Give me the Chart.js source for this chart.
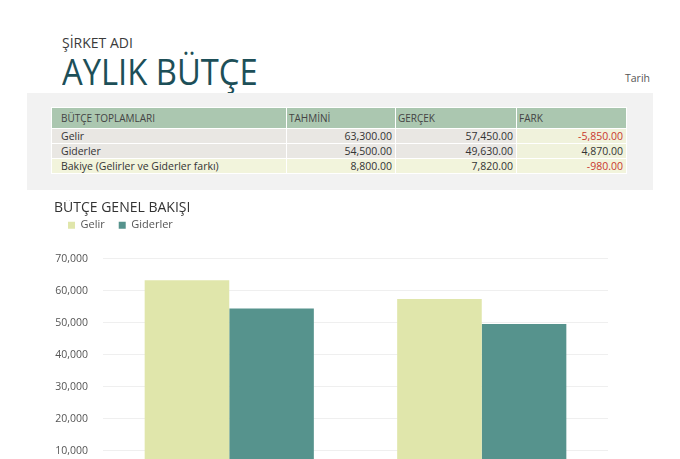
<!DOCTYPE html>
<html lang="tr">
<head>
<meta charset="utf-8">
<title>Aylık Bütçe</title>
<script src="https://cdn.jsdelivr.net/npm/chart.js@4.4.1/dist/chart.umd.min.js"></script>
<style>
    html, body {
        margin: 0;
        padding: 0;
        width: 680px;
        height: 459px;
        overflow: hidden;
        background: #fff;
        font-family: "Open Sans", Lato, sans-serif;
    }
    .company {
        position: absolute;
        left: 62px;
        top: 33px;
        font-size: 14px;
        color: #3b3b3b;
    }
    .main-title {
        position: absolute;
        left: 62px;
        top: 52px;
        font-size: 37px;
        line-height: 1;
        color: #1d4f58;
        transform: scaleX(0.885);
        transform-origin: left top;
        white-space: nowrap;
    }
    .date {
        position: absolute;
        right: 30px;
        top: 71px;
        font-size: 10.5px;
        color: #555;
    }
    .band {
        position: absolute;
        left: 27px;
        top: 93px;
        width: 626px;
        height: 97px;
        background: #f2f2f2;
    }
    table {
        position: absolute;
        left: 51px;
        top: 107px;
        border-collapse: collapse;
        table-layout: fixed;
        font-size: 10.5px;
        color: #333;
    }
    td, th {
        border: 1px solid #fff;
        padding: 0 3px 0 2px;
        height: 14px;
        line-height: 14px;
        white-space: nowrap;
        overflow: hidden;
    }
    th {
        background: #abc7b0;
        font-weight: normal;
        text-align: left;
        height: 20px;
        font-size: 10px;
        color: #444;
    }
    th:first-child, td:first-child { padding-left: 9px; }
    td { text-align: right; }
    td:first-child { text-align: left; }
    .grey td { background: #e9e7e3; }
    .grey td.diff { background: #f0f2dc; }
    .yellow td { background: #f2f4dc; }
    .neg { color: #c8382e; }
    #chart-wrap {
        position: absolute;
        left: 40px;
        top: 200px;
        width: 590px;
        height: 310px;
    }
</style>
</head>
<body>
<div class="company">ŞİRKET ADI</div>
<div class="main-title">AYLIK BÜTÇE</div>
<div class="date">Tarih</div>
<div class="band"></div>
<table>
    <colgroup>
        <col style="width:235px">
        <col style="width:109px">
        <col style="width:121px">
        <col style="width:110px">
    </colgroup>
    <tr>
        <th>BÜTÇE TOPLAMLARI</th>
        <th>TAHMİNİ</th>
        <th>GERÇEK</th>
        <th>FARK</th>
    </tr>
    <tr class="grey"><td>Gelir</td><td>63,300.00</td><td>57,450.00</td><td class="diff neg">-5,850.00</td></tr>
    <tr class="grey"><td>Giderler</td><td>54,500.00</td><td>49,630.00</td><td class="diff">4,870.00</td></tr>
    <tr class="yellow"><td>Bakiye (Gelirler ve Giderler farkı)</td><td>8,800.00</td><td>7,820.00</td><td class="neg">-980.00</td></tr>
</table>
<div id="chart-wrap"><canvas id="budget-chart"></canvas></div>
<script>
const categories = ['Tahmini', 'Gerçek'];
const incomeValues = [63300, 57450];
const expenseValues = [54500, 49630];
const seriesNames = ['Gelir', 'Giderler'];
const yTicks = [0, 10000, 20000, 30000, 40000, 50000, 60000, 70000];

// extra room under the legend, like the spreadsheet chart
const legendGap = {
    id: 'legendGap',
    beforeInit(chart) {
        const fit = chart.legend.fit;
        chart.legend.fit = function () {
            fit.call(this);
            this.height += 18;
        };
    }
};

const ctx = document.getElementById('budget-chart').getContext('2d');
new Chart(ctx, {
    type: 'bar',
    data: {
        labels: categories,
        datasets: [
            { label: seriesNames[0], data: incomeValues, backgroundColor: '#e0e6ab' },
            { label: seriesNames[1], data: expenseValues, backgroundColor: '#56938d' }
        ]
    },
    plugins: [legendGap],
    options: {
        responsive: true,
        maintainAspectRatio: false,
        animation: false,
        events: [],
        layout: { padding: { left: 14, right: 22, top: 0, bottom: 0 } },
        datasets: { bar: { barPercentage: 1, categoryPercentage: 0.67 } },
        plugins: {
            title: {
                display: true,
                text: 'BÜTÇE GENEL BAKIŞI',
                align: 'start',
                color: '#333',
                font: { family: 'Open Sans', size: 14, weight: 'normal' },
                padding: { top: 0, bottom: -11 }
            },
            legend: {
                position: 'top',
                align: 'start',
                labels: {
                    boxWidth: 7,
                    boxHeight: 7,
                    color: '#555',
                    font: { family: 'Open Sans', size: 11 },
                    padding: 14
                }
            },
            tooltip: { enabled: false }
        },
        scales: {
            x: {
                grid: { display: false },
                border: { display: false },
                ticks: { color: '#555', font: { family: 'Open Sans', size: 11 } }
            },
            y: {
                min: yTicks[0],
                max: yTicks[yTicks.length - 1],
                afterBuildTicks: axis => { axis.ticks = yTicks.map(v => ({ value: v })); },
                afterFit: axis => { axis.width = 49; },
                grid: { color: '#efefef', drawTicks: false },
                border: { display: false },
                ticks: {
                    padding: 15,
                    color: '#555',
                    font: { family: 'Open Sans', size: 10.5 },
                    callback: v => v.toLocaleString('en-US')
                }
            }
        }
    }
});
</script>
</body>
</html>
